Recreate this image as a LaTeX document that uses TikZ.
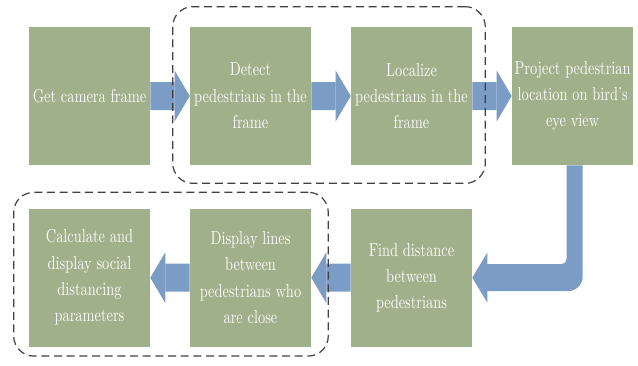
\documentclass[tikz,border=0pt]{standalone}
\usepackage{xcolor}
\usetikzlibrary{positioning, arrows.meta, fit, calc}

\definecolor{boxgreen}{RGB}{160,176,138}
\definecolor{flowblue}{RGB}{123,156,196}

\begin{document}
\begin{tikzpicture}[
    x=0.75pt, y=0.75pt,
    node distance=32.25pt and 29.6pt,
    box/.style={rectangle, fill=boxgreen, yscale=1.3, transform shape, minimum width=90.75pt, minimum height=79.6pt, inner sep=2pt, align=center, text=white!96!boxgreen, font=\fontsize{10.8}{15.2}\selectfont},
    flow/.style={draw=flowblue, line width=21pt, -{Triangle[length=11.25pt, width=38pt, line width=0pt]}},
    group/.style={draw=black!75, dash pattern=on 6pt off 3.5pt, line width=0.9pt, rounded corners=15pt}
]
\useasboundingbox (-89.5,96) rectangle (548.5,-269);

% Nodes
\node[box] (get) {Get camera frame};
\node[box, right=of get] (detect) {Detect \\ pedestrians in the \\ frame};
\node[box, right=of detect] (loc) {Localize \\ pedestrians in the \\ frame};
\node[box, right=of loc] (proj) {Project pedestrian \\ location on bird's \\ eye view};
\node[box, below=of loc] (find) {Find distance \\ between \\ pedestrians};
\node[box, below=of detect] (disp) {Display lines \\ between \\ pedestrians who \\ are close};
\node[box, below=of get] (calc) {Calculate and \\ display social \\ distancing \\ parameters};

% Arrows
\draw[flow] (get) -- (detect);
\draw[flow] (detect) -- (loc);
\draw[flow] (loc) -- (proj);
\coordinate (bend) at (proj.south |- find.east);
\fill[flowblue] ($(proj.south)+(-6,0)$) -- ($(proj.south)+(10,0)$)
    [rounded corners=11pt] -- ($(bend)+(10,-13.5)$) [sharp corners]
    -- ($(find.east)+(15,-13.5)$) -- ($(find.east)+(15,-25)$) -- (find.east)
    -- ($(find.east)+(15,25)$) -- ($(find.east)+(15,13.5)$)
    [rounded corners=4pt] -- ($(bend)+(-6,13.5)$) [sharp corners] -- cycle;
\draw[flow] (find) -- (disp);
\draw[flow] (disp) -- (calc);

% Groups
\node[group, fit=(detect)(loc), inner xsep=11.25pt, inner ysep=14.25pt, xshift=-1.5pt, yshift=0.75pt] (top) {};
\node[group, fit=(calc)(disp), inner xsep=12pt, inner ysep=9.4pt, xshift=0.75pt, yshift=2.6pt] (bottom) {};

\end{tikzpicture}
\end{document}
